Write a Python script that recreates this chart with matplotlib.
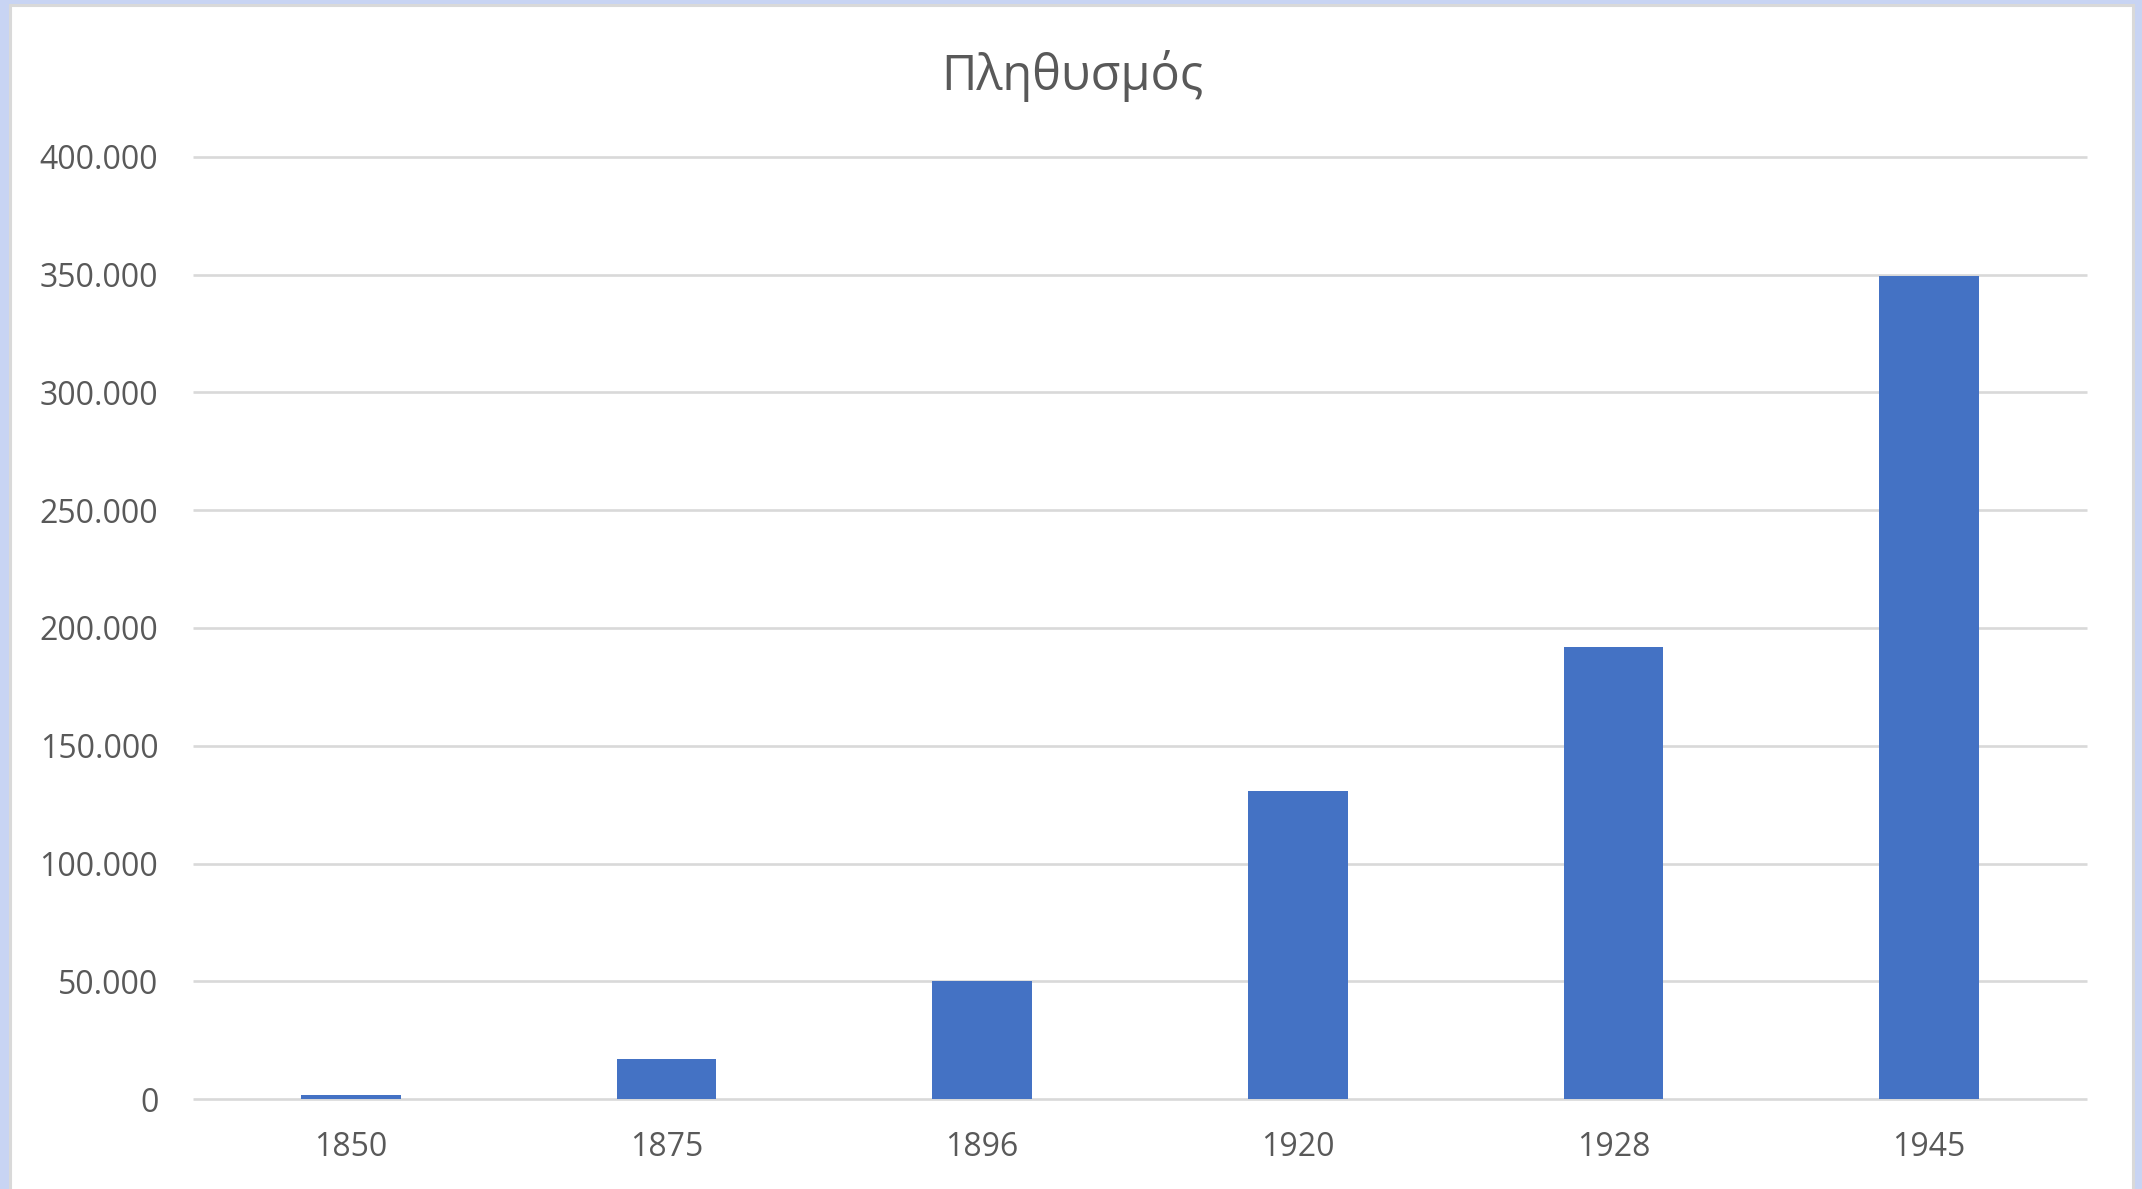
import matplotlib.pyplot as plt
from matplotlib.patches import Rectangle
from matplotlib.ticker import FuncFormatter

# data
years = ['1850', '1875', '1896', '1920', '1928', '1945']
population = [1600, 16800, 50000, 130600, 192000, 349500]
y_ticks = [0, 50000, 100000, 150000, 200000, 250000, 300000, 350000, 400000]
title = 'Πληθυσμός'

plt.rcParams['font.family'] = ['Open Sans', 'DejaVu Sans']

fig = plt.figure(figsize=(21.42, 11.89), dpi=100)
fig.patch.set_facecolor('#c8d4f3')

# white chart area with a thin grey border, behind the axes
fig.add_artist(Rectangle((10 / 2142, -0.05), 2123 / 2142, 1.05 - 5 / 1189,
                         transform=fig.transFigure, facecolor='white',
                         edgecolor='#d9d9d9', linewidth=2.2, zorder=-5))

ax = fig.add_axes([193 / 2142, 1 - 1099 / 1189, (2087 - 193) / 2142, (1099 - 157) / 1189])
ax.set_facecolor('none')
ax.set_zorder(1)

x = range(len(years))
ax.bar(x, population, width=0.315, color='#4472c4', zorder=3)

# horizontal gridlines, including the baseline
ax.hlines(y_ticks, -0.5, 5.5, colors='#d9d9d9', linewidth=1.9, zorder=1, clip_on=False)

ax.set_xlim(-0.5, 5.5)
ax.set_ylim(0, 400000)
ax.set_xticks(list(x))
ax.set_xticklabels(years)
ax.set_yticks(y_ticks)
ax.yaxis.set_major_formatter(FuncFormatter(lambda v, p: f'{int(v):,}'.replace(',', '.')))

for s in ax.spines.values():
    s.set_visible(False)
ax.tick_params(axis='both', length=0, labelsize=23, labelcolor='#595959')
ax.tick_params(axis='y', pad=25)
ax.tick_params(axis='x', pad=23)

fig.text(1072 / 2142, 1 - 76 / 1189, title, ha='center', va='center',
         fontsize=35, color='#595959', zorder=2)

fig.savefig('out.png', dpi=100, facecolor=fig.get_facecolor())
